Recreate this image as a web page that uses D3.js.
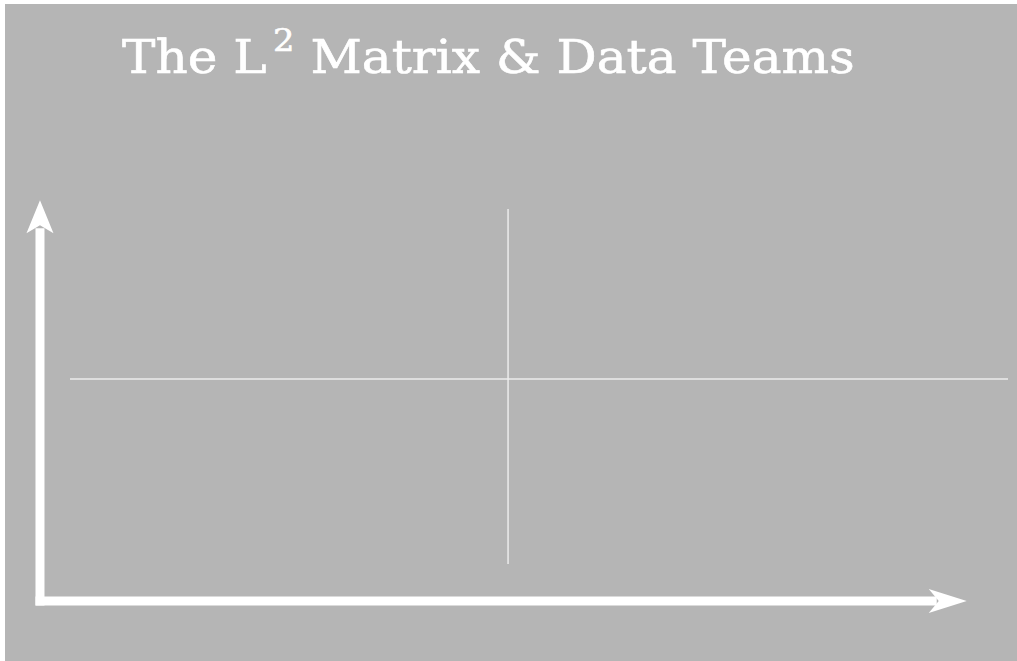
<!DOCTYPE html>
<html>
<head>
<meta charset="utf-8">
<script src="https://cdn.jsdelivr.net/npm/d3@7"></script>
<style>
  html, body { margin: 0; padding: 0; background: #ffffff; }
  svg { display: block; }
</style>
</head>
<body>
<div id="chart"></div>
<script>
// Chart content
const titleParts = [
    { text: 'The L', sup: false },
    { text: '2', sup: true },
    { text: ' Matrix & Data Teams', sup: false }
];

// Quadrant dividers, in a 0-100 space on each axis
const xDomain = [0, 100];
const yDomain = [0, 100];
const verticalDividers = [46.7];
const horizontalDividers = [52.1];

// Axis arrows (in the same 0-100 space, extending past the quadrant area)
const xAxisArrow = { from: -3.2, to: 95.6, at: -10.4 };
const yAxisArrow = { from: -11.5, to: 102.5, at: -3.2 };

const width = 1017;
const height = 661;
const bg = '#b5b5b5';

function drawChart() {
    const svg = d3.select('#chart')
        .append('svg')
        .attr('width', width)
        .attr('height', height);

    // Gray panel with a thin white margin at top and left
    svg.append('rect')
        .attr('x', 5).attr('y', 4)
        .attr('width', width - 5).attr('height', height - 4)
        .attr('fill', bg);

    const x = d3.scaleLinear().domain(xDomain).range([70, 1008]);
    const y = d3.scaleLinear().domain(yDomain).range([564, 209]);

    // Quadrant lines
    const grid = svg.append('g').attr('class', 'grid');
    verticalDividers.forEach(v => {
        grid.append('line')
            .attr('x1', x(v)).attr('x2', x(v))
            .attr('y1', y(yDomain[0])).attr('y2', y(yDomain[1]))
            .attr('stroke', '#ececec').attr('stroke-width', 1.5);
    });
    horizontalDividers.forEach(v => {
        grid.append('line')
            .attr('x1', x(xDomain[0])).attr('x2', x(xDomain[1]))
            .attr('y1', y(v)).attr('y2', y(v))
            .attr('stroke', '#ececec').attr('stroke-width', 1.5);
    });

    // Axis arrows
    const axes = svg.append('g').attr('class', 'axes');
    const ax = x(yAxisArrow.at);          // x position of the vertical arrow
    const ay = y(xAxisArrow.at);          // y position of the horizontal arrow
    const xEnd = x(xAxisArrow.to);
    const yEnd = y(yAxisArrow.to);
    const stroke = 9;

    axes.append('line')
        .attr('x1', ax - stroke / 2).attr('y1', ay)
        .attr('x2', xEnd - 30).attr('y2', ay)
        .attr('stroke', '#ffffff').attr('stroke-width', stroke);
    axes.append('line')
        .attr('x1', ax).attr('y1', ay + stroke / 2)
        .attr('x2', ax).attr('y2', yEnd + 28)
        .attr('stroke', '#ffffff').attr('stroke-width', stroke);

    // Notched arrow heads
    axes.append('path')
        .attr('d', `M${xEnd},${ay} L${xEnd - 38},${ay - 12} L${xEnd - 28},${ay} L${xEnd - 38},${ay + 12} Z`)
        .attr('fill', '#ffffff');
    axes.append('path')
        .attr('d', `M${ax},${yEnd} L${ax - 13.5},${yEnd + 33} L${ax},${yEnd + 25} L${ax + 13.5},${yEnd + 33} Z`)
        .attr('fill', '#ffffff');

    // Title
    const title = svg.append('text')
        .attr('x', 122).attr('y', 73)
        .attr('fill', '#ffffff')
        .attr('stroke', '#ffffff').attr('stroke-width', 0.6)
        .attr('font-family', '"DejaVu Serif", serif')
        .attr('font-size', 46);
    titleParts.forEach(p => {
        const t = title.append('tspan').text(p.text);
        if (p.sup) {
            t.attr('font-size', 31).attr('dy', -22).attr('dx', 6);
        } else if (p.text.startsWith(' ')) {
            t.attr('dy', 22).attr('dx', 0);
        }
    });

    // Stretch the title to the reference width
    const box = title.node().getBBox();
    const target = 855 - 122;
    title.attr('transform', `translate(122,0) scale(${target / box.width},1) translate(${-box.x},0)`);
}

drawChart();
</script>
</body>
</html>
